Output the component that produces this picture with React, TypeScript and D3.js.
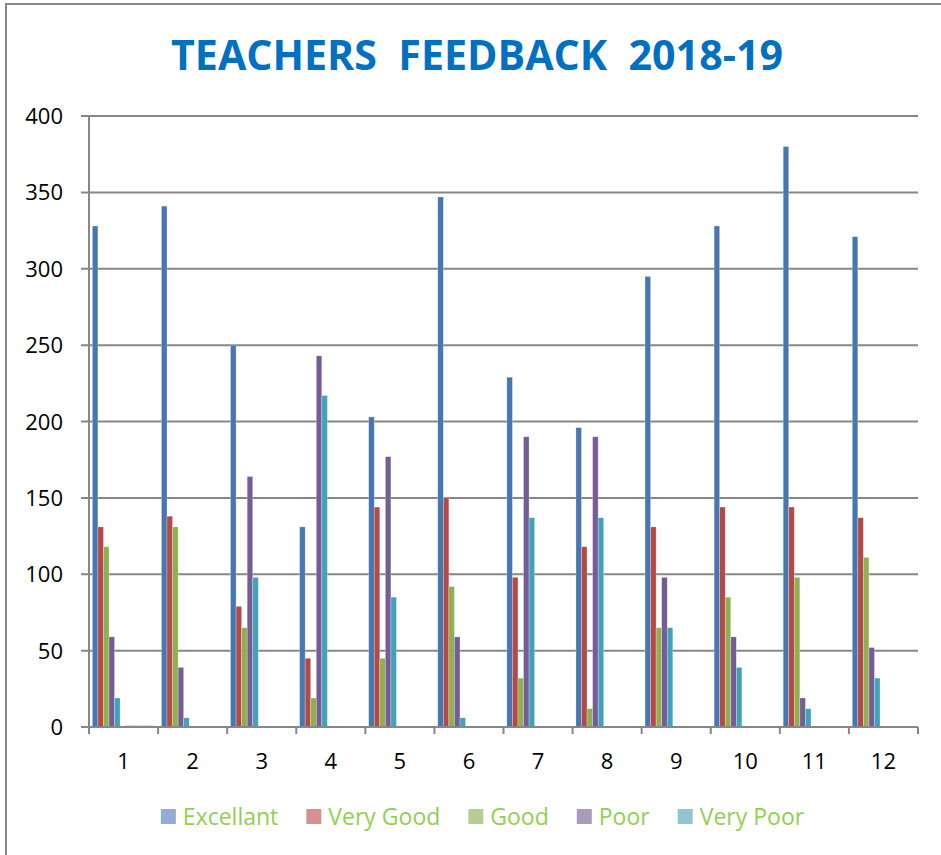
import * as d3 from "d3";
import React, { useEffect, useRef } from "react";

const categories = ["1", "2", "3", "4", "5", "6", "7", "8", "9", "10", "11", "12"];
const seriesNames = ["Excellant", "Very Good", "Good", "Poor", "Very Poor"];
const excellant = [328, 341, 250, 131, 203, 347, 229, 196, 295, 328, 380, 321];
const veryGood = [131, 138, 79, 45, 144, 150, 98, 118, 131, 144, 144, 137];
const good = [118, 131, 65, 19, 45, 92, 32, 12, 65, 85, 98, 111];
const poor = [59, 39, 164, 243, 177, 59, 190, 190, 98, 59, 19, 52];
const veryPoor = [19, 6, 98, 217, 85, 6, 137, 137, 65, 39, 12, 32];
// the sheet has a blank column and 5 more unnamed columns, only non-zero in row 1
const unnamedRow1 = [1, 1, 1, 1, 1];
const yTicks = [0, 50, 100, 150, 200, 250, 300, 350, 400];
const title = "TEACHERS  FEEDBACK  2018-19";

const barColors = ["#4677B0", "#B44A47", "#8FAF50", "#765C96", "#43A1BA"];
const legendColors = ["#95ABD4", "#D4918F", "#B8CD96", "#A99BBE", "#93C4D4"];

const App = () => {
    const svgRef = useRef(null);

    useEffect(() => {
        document.body.style.margin = "0";
        const svg = d3.select(svgRef.current);
        svg.selectAll("*").remove();

        const width = 941;
        const height = 855;
        const margin = { top: 116, right: 23, bottom: 128, left: 89 };
        const font = "'Open Sans', 'DejaVu Sans', sans-serif";
        const gridColor = "#878787";

        svg.append("rect").attr("width", width).attr("height", height).attr("fill", "#fff");

        // outer frame (only top and left edges fall inside the picture)
        svg.append("path")
            .attr("d", `M6,${height} L6,4 L${width},4`)
            .attr("fill", "none")
            .attr("stroke", "#898989")
            .attr("stroke-width", 2);

        svg.append("text")
            .attr("x", 477)
            .attr("y", 70)
            .attr("text-anchor", "middle")
            .attr("font-family", font)
            .attr("font-weight", "bold")
            .attr("font-size", 42)
            .attr("fill", "#0070C0")
            .attr("textLength", 612)
            .attr("lengthAdjust", "spacingAndGlyphs")
            .style("white-space", "pre")
            .text(title);

        const x0 = d3.scaleBand()
            .domain(categories)
            .range([margin.left, width - margin.right])
            .padding(0);

        const slots = ["Excellant", "Very Good", "Good", "Poor", "Very Poor", "blank", "u1", "u2", "u3", "u4", "u5"];
        const x1 = d3.scaleBand()
            .domain(slots)
            .range([0, x0.bandwidth()])
            .paddingInner(0)
            .paddingOuter(0.72)
            .align(0.42);

        const y = d3.scaleLinear()
            .domain([0, 400])
            .range([height - margin.bottom, margin.top]);

        // gridlines with left tick marks
        svg.append("g")
            .selectAll("line")
            .data(yTicks.filter(t => t > 0))
            .enter()
            .append("line")
            .attr("x1", margin.left - 8)
            .attr("x2", width - margin.right)
            .attr("y1", d => y(d))
            .attr("y2", d => y(d))
            .attr("stroke", gridColor)
            .attr("stroke-width", 2);

        svg.append("g")
            .selectAll("text")
            .data(yTicks)
            .enter()
            .append("text")
            .attr("x", 63)
            .attr("y", d => y(d) + 8)
            .attr("text-anchor", "end")
            .attr("font-family", font)
            .attr("font-size", 22)
            .attr("fill", "#000")
            .text(d => d);

        const table = [excellant, veryGood, good, poor, veryPoor];
        const bars = [];
        categories.forEach((c, ci) => {
            table.forEach((vals, si) => {
                bars.push({ cat: c, slot: slots[si], value: vals[ci], color: barColors[si] });
            });
            if (ci === 0) {
                unnamedRow1.forEach((v, ui) => {
                    bars.push({ cat: c, slot: slots[6 + ui], value: v, color: legendColors[ui] });
                });
            }
        });

        svg.append("g")
            .selectAll("rect")
            .data(bars)
            .enter()
            .append("rect")
            .attr("x", d => x0(d.cat) + x1(d.slot))
            .attr("width", x1.bandwidth())
            .attr("y", d => y(d.value))
            .attr("height", d => y(0) - y(d.value))
            .attr("fill", d => d.color)
            .attr("stroke", "rgba(255,255,255,0.45)")
            .attr("stroke-width", 0.6);

        // axes
        svg.append("line")
            .attr("x1", margin.left)
            .attr("x2", margin.left)
            .attr("y1", y(400))
            .attr("y2", y(0))
            .attr("stroke", gridColor)
            .attr("stroke-width", 2);

        svg.append("line")
            .attr("x1", margin.left - 8)
            .attr("x2", width - margin.right)
            .attr("y1", y(0))
            .attr("y2", y(0))
            .attr("stroke", gridColor)
            .attr("stroke-width", 2);

        const edges = categories.map(c => x0(c)).concat([width - margin.right]);
        svg.append("g")
            .selectAll("line")
            .data(edges)
            .enter()
            .append("line")
            .attr("x1", d => d)
            .attr("x2", d => d)
            .attr("y1", y(0))
            .attr("y2", y(0) + 7)
            .attr("stroke", gridColor)
            .attr("stroke-width", 2);

        svg.append("g")
            .selectAll("text")
            .data(categories)
            .enter()
            .append("text")
            .attr("x", d => x0(d) + x0.bandwidth() / 2)
            .attr("y", 769)
            .attr("text-anchor", "middle")
            .attr("font-family", font)
            .attr("font-size", 22)
            .attr("fill", "#000")
            .text(d => d);

        // legend, laid out from measured text widths
        const legend = svg.append("g");
        const items = seriesNames.map((name, i) => {
            const g = legend.append("g");
            g.append("rect")
                .attr("width", 15)
                .attr("height", 15)
                .attr("y", -8)
                .attr("fill", legendColors[i]);
            const t = g.append("text")
                .attr("x", 22)
                .attr("y", 8)
                .attr("font-family", font)
                .attr("font-size", 23)
                .attr("fill", "#92D050")
                .text(name);
            return { g, w: 22 + t.node().getComputedTextLength() };
        });
        const gap = 28;
        const total = d3.sum(items, d => d.w) + gap * (items.length - 1);
        let cx = 482.5 - total / 2;
        items.forEach(it => {
            it.g.attr("transform", `translate(${cx},817)`);
            cx += it.w + gap;
        });
    }, []);

    return (
        <svg
            ref={svgRef}
            width={941}
            height={855}
            style={{ position: "absolute", left: 0, top: 0, display: "block" }}
        ></svg>
    );
};

export default App;
